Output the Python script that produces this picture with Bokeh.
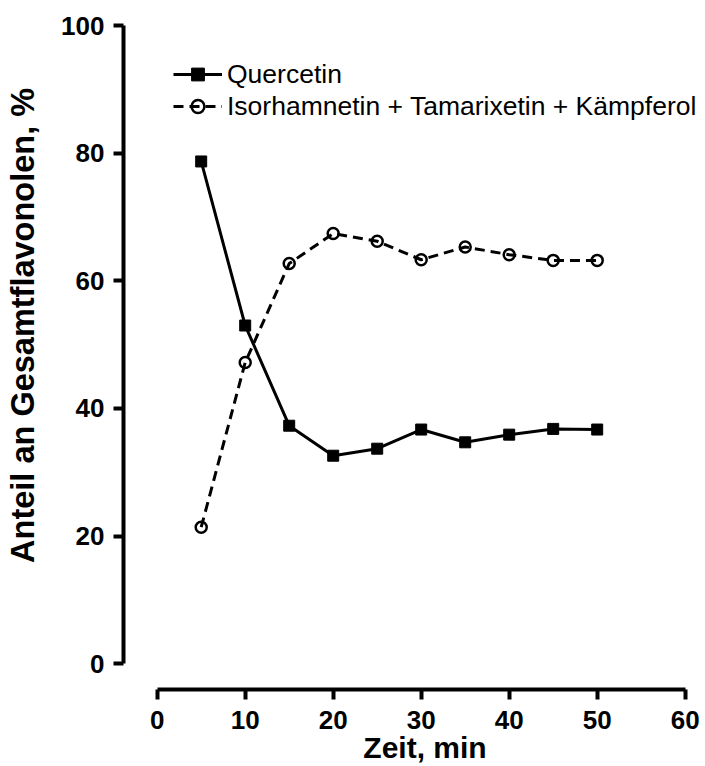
from bokeh.plotting import figure
from bokeh.models import FixedTicker, Legend, LegendItem, Range1d
from bokeh.embed import file_html
from bokeh.resources import INLINE

# ---- data ----
time_min = [5, 10, 15, 20, 25, 30, 35, 40, 45, 50]
quercetin = [78.7, 53.0, 37.3, 32.6, 33.7, 36.7, 34.7, 35.9, 36.8, 36.7]
iso_tam_kae = [21.4, 47.2, 62.7, 67.4, 66.2, 63.3, 65.3, 64.1, 63.2, 63.2]
x_ticks = [0, 10, 20, 30, 40, 50, 60]
y_ticks = [0, 20, 40, 60, 80, 100]
label_q = "Quercetin"
label_i = "Isorhamnetin + Tamarixetin + Kämpferol"
x_title = "Zeit, min"
y_title = "Anteil an Gesamtflavonolen, %"

# ---- geometry (canvas px) ----
FRAME_L, FRAME_R, FRAME_T, FRAME_B = 123, 701, 15, 689
X0_PX, X_PER = 156.7, 8.8      # x=0 position, px per minute
Y0_PX, Y_PER = 663.3, 6.383    # y=0 position, px per percent

def sx_to_data(px):
    return (px - X0_PX) / X_PER

def sy_to_data(py):
    return (Y0_PX - py) / Y_PER

FONT = "Liberation Sans"
NB = "\u00a0"

p = figure(
    output_backend="svg", toolbar_location=None,
    frame_width=FRAME_R - FRAME_L, frame_height=FRAME_B - FRAME_T,
    x_range=Range1d(sx_to_data(FRAME_L), sx_to_data(FRAME_R)),
    y_range=Range1d(sy_to_data(FRAME_B), sy_to_data(FRAME_T)),
    min_border_left=FRAME_L, min_border_right=3,
    min_border_top=FRAME_T, min_border_bottom=76,
)
p.outline_line_color = None
p.xgrid.visible = False
p.ygrid.visible = False
p.background_fill_color = "white"
p.border_fill_color = "white"

for ax, ticks, bnds in ((p.xaxis, x_ticks, (0, 60)), (p.yaxis, y_ticks, (0, 100))):
    ax.ticker = FixedTicker(ticks=ticks)
    ax.bounds = bnds
    ax.axis_line_width = 4
    ax.axis_line_color = "black"
    ax.major_tick_line_width = 4
    ax.major_tick_line_color = "black"
    ax.major_tick_in = 0
    ax.major_tick_out = 10
    ax.minor_tick_line_color = None
    ax.major_label_text_font = FONT
    ax.major_label_text_font_style = "bold"
    ax.major_label_text_font_size = "26px"
    ax.major_label_text_color = "black"
    ax.axis_label_text_font = FONT
    ax.axis_label_text_font_style = "bold"
    ax.axis_label_text_color = "black"
p.yaxis.major_label_standoff = 9
p.xaxis.major_label_standoff = 11

# axis titles (leading no-break spaces shift the centred title along the axis)
p.xaxis.axis_label = NB * 3 + x_title
p.xaxis.axis_label_text_font_size = "30px"
p.xaxis.axis_label_standoff = -1
p.yaxis.axis_label = NB * 6 + y_title
p.yaxis.axis_label_text_font_size = "32.5px"
p.yaxis.axis_label_standoff = 17

# ---- series ----
lq = p.line(time_min, quercetin, line_color="black", line_width=3)
sq = p.scatter(time_min, quercetin, marker="square", size=11,
               fill_color="black", line_color="black", line_width=1)
li = p.line(time_min, iso_tam_kae, line_color="black", line_width=3, line_dash="10 6")
si = p.scatter(time_min, iso_tam_kae, marker="circle", size=11,
               fill_color=None, line_color="black", line_width=2.5)

legend = Legend(
    items=[LegendItem(label=label_q, renderers=[lq, sq]),
           LegendItem(label=label_i, renderers=[li, si])],
    location=(173 - FRAME_L, FRAME_B - 122),
    glyph_width=49, glyph_height=32, spacing=0, padding=0, margin=0,
    label_standoff=5,
    label_text_font=FONT, label_text_font_size="26.5px", label_text_color="black",
    border_line_color=None, background_fill_alpha=0,
)
p.add_layout(legend, "center")

open("out.html", "w").write(file_html(p, INLINE))
